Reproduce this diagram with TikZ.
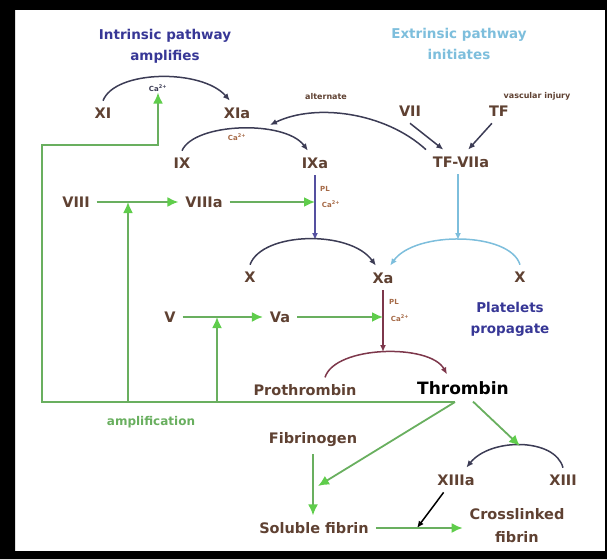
\documentclass[tikz,border=0pt]{standalone}
\usepackage{fontspec}
\setmainfont{DejaVu Sans}
\usetikzlibrary{arrows.meta}
\definecolor{facclr}{RGB}{95,65,50}
\definecolor{grnln}{RGB}{105,175,95}
\definecolor{grnhd}{RGB}{95,205,75}
\definecolor{arcclr}{RGB}{60,60,85}
\definecolor{intclr}{RGB}{55,55,150}
\definecolor{extclr}{RGB}{125,190,220}
\definecolor{plclr}{RGB}{165,105,70}
\definecolor{ixclr}{RGB}{85,80,160}
\definecolor{xaclr}{RGB}{125,55,75}

\begin{document}
\begin{tikzpicture}[x=1pt,y=-1pt,
    fac/.style={text=facclr,font=\bfseries\fontsize{14.5}{16}\selectfont,inner sep=2pt,outer sep=5pt},
    ttl/.style={font=\bfseries\fontsize{13.5}{21}\selectfont,align=center},
    note/.style={text=facclr,font=\bfseries\fontsize{8}{9}\selectfont,inner sep=1pt},
    cofac/.style={text=plclr,font=\bfseries\fontsize{7}{8}\selectfont,inner sep=1pt},
    curv/.style={draw=arcclr,line width=1.5pt,-{Latex[length=7pt,width=6pt]}},
    ext/.style={draw=extclr,line width=1.5pt,-{Latex[length=7pt,width=6pt]}},
    amp/.style={draw=grnln,line width=1.8pt,-{Latex[length=11pt,width=10pt,color=grnhd]}}]
    \useasboundingbox (0,0) rectangle (607,559);

    \node[ttl,text=intclr] (intr) at (165,46) {Intrinsic pathway\\amplifies};
    \node[ttl,text=extclr] (extr) at (459,44) {Extrinsic pathway\\initiates};
    \node[ttl,text=intclr] (plt) at (510,319) {Platelets\\propagate};

    \node[fac] (xi) at (103,113) {XI};
    \node[fac] (xia) at (237,113) {XIa};
    \node[fac] (vii) at (410,111) {VII};
    \node[fac] (tf) at (499,111) {TF};
    \node[fac] (ix) at (182,163) {IX};
    \node[fac] (ixa) at (315,163) {IXa};
    \node[fac] (tfv) at (461,162) {TF-VIIa};
    \node[fac] (viii) at (76,202) {VIII};
    \node[fac] (viiia) at (204,202) {VIIIa};
    \node[fac] (x1) at (250,277) {X};
    \node[fac] (xa) at (383,278) {Xa};
    \node[fac] (x2) at (520,277) {X};
    \node[fac] (v) at (170,317) {V};
    \node[fac] (va) at (280,317) {Va};
    \node[fac] (pro) at (305,390) {Prothrombin};
    \node[fac,text=black,font=\bfseries\fontsize{17}{19}\selectfont] (thr) at (463,388) {Thrombin};
    \node[fac] (fbg) at (313,440) {Fibrinogen};
    \node[fac] (xiiia) at (456,480) {XIIIa};
    \node[fac] (xiii) at (563,480) {XIII};
    \node[fac] (sfb) at (314,528) {Soluble fibrin};
    \node[fac,align=center,font=\bfseries\fontsize{14.5}{23}\selectfont] (cfb) at (517,526) {Crosslinked\\fibrin};
    \node[font=\bfseries\fontsize{12}{14}\selectfont,text=grnln] (ampl) at (151,422) {amplification};

    \node[cofac,text=arcclr] (ca1) at (158,88) {Ca\textsuperscript{2+}};
    \node[cofac] (ca2) at (237,137) {Ca\textsuperscript{2+}};
    \node[note] (altl) at (326,97) {alternate};
    \node[note] (inj) at (537,96) {vascular injury};
    \node[cofac] (pl1) at (325,189) {PL};
    \node[cofac] (ca3) at (331,204) {Ca\textsuperscript{2+}};
    \node[cofac] (pl2) at (394,302) {PL};
    \node[cofac] (ca4) at (400,318) {Ca\textsuperscript{2+}};

    \coordinate (hub) at (455,402);
    \coordinate (cnr) at (42,145);
    \coordinate (b8) at (128,402);
    \coordinate (b5) at (217,402);
    \coordinate (m8) at (128,202);
    \coordinate (m5) at (217,317);
    \coordinate (m9) at (315,202);
    \coordinate (m6) at (383,317);
    \coordinate (pk1) at (315,240);
    \coordinate (pk2) at (458,240);
    \coordinate (pk3) at (383,352);
    \coordinate (pk4) at (520,446);
    \coordinate (m10) at (318,486);
    \coordinate (m11) at (417,528);
    \coordinate (alt) at (270,125);

    \draw[curv] (xi.north) .. controls +(12,-31) and +(-28,-32) .. (xia.120);
    \draw[curv] (ix.north) .. controls +(12,-28) and +(-23,-31) .. (ixa.120);
    \draw[curv] (tfv.north west) .. controls (385,112) and (315,103) .. (alt);
    \draw[curv] (vii.south) -- (tfv.145);
    \draw[curv] (tf.240) -- (tfv.60);
    \draw[curv,draw=ixclr] (ixa.south) -- (pk1);
    \draw[ext] (tfv.south -| pk2) -- (pk2);
    \draw[curv] (x1.north) .. controls +(12,-33) and +(-26,-36) .. (xa.120);
    \draw[ext] (x2.north) .. controls +(-10,-33) and +(25,-35) .. (xa.60);
    \draw[curv,draw=xaclr] (xa.south) -- (pk3);
    \draw[curv,draw=xaclr] ([xshift=20pt]pro.north) .. controls +(10,-32) and +(-17,-31) .. ([xshift=-16pt]thr.north);
    \draw[curv] (xiii.north) .. controls +(-8,-30) and +(24,-30) .. (xiiia.50);
    \draw[curv,draw=black] (xiiia.225) -- (m11);

    \draw[amp] (hub) -| (cnr) -| (ca1.south);
    \draw[amp] (b8) -- (m8);
    \draw[amp] (b5) -- (m5);
    \draw[amp] (viii) -- (viiia);
    \draw[amp] (viiia) -- (m9);
    \draw[amp] (v) -- (va);
    \draw[amp] (va) -- (m6);
    \draw[amp] (hub) -- (m10);
    \draw[amp] ([xshift=10pt]thr.south) -- (pk4);
    \draw[amp] (fbg.south) -- (fbg.south |- sfb.north);
    \draw[amp] (sfb.east) -- (sfb.east -| cfb.west);

    \fill[black,even odd rule] (0,0) rectangle (607,559) (15,10) rectangle (605,551);
\end{tikzpicture}
\end{document}
